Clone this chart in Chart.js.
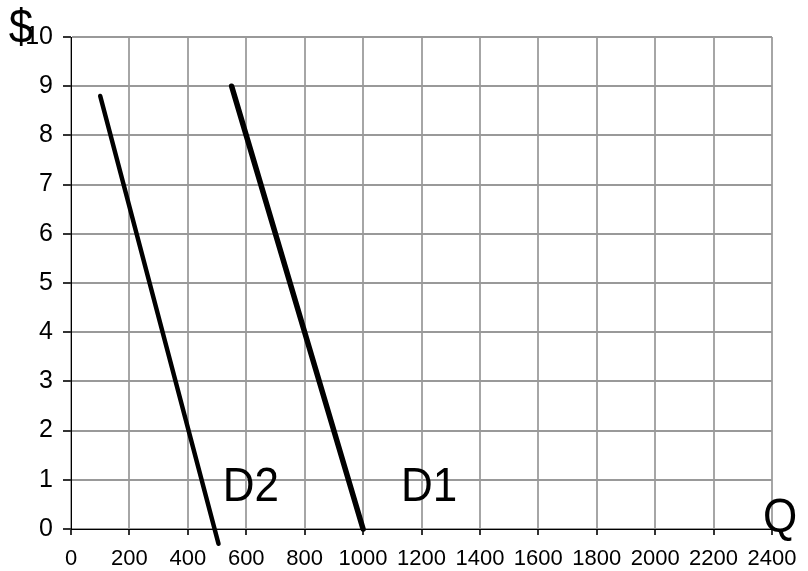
<!DOCTYPE html>
<html>
<head>
<meta charset="utf-8">
<script src="https://cdn.jsdelivr.net/npm/chart.js@4/dist/chart.umd.min.js"></script>
<style>
  html, body { margin: 0; padding: 0; background: #fff; }
  #wrap { width: 808px; height: 571px; }
</style>
</head>
<body>
<div id="wrap"><canvas id="grafico"></canvas></div>
<script>
// Demand curves (Q, $)
const d1Q = [550, 600, 800, 1000];
const d1P = [9, 8, 4, 0];
const d2Q = [100, 505];
const d2P = [8.8, -0.3];
const xTicks = [0, 200, 400, 600, 800, 1000, 1200, 1400, 1600, 1800, 2000, 2200, 2400];
const yTicks = [0, 1, 2, 3, 4, 5, 6, 7, 8, 9, 10];

const FONT = "Arial, 'Liberation Sans', sans-serif";

const pts = (xs, ys) => xs.map((x, i) => ({ x, y: ys[i] }));

// escreve texto um pouco esticado na vertical, como no original
function texto(ctx, t, x, y, size) {
  ctx.save();
  ctx.translate(x, y);
  ctx.scale(1, 1.1);
  ctx.font = size + 'px ' + FONT;
  ctx.fillText(t, 0, 0);
  ctx.restore();
}

// Text labels: D1, D2, axis names
const rotulos = {
  id: 'rotulos',
  afterDatasetsDraw(chart) {
    const { ctx, chartArea, scales } = chart;
    ctx.save();
    ctx.fillStyle = '#000';
    ctx.textAlign = 'center';
    ctx.textBaseline = 'middle';
    texto(ctx, 'D2', scales.x.getPixelForValue(616), scales.y.getPixelForValue(0.85), 44);
    texto(ctx, 'D1', scales.x.getPixelForValue(1226), scales.y.getPixelForValue(0.85), 44);
    texto(ctx, 'Q', chartArea.right + 8, chartArea.bottom - 10, 44);
    texto(ctx, '$', 21, 30, 44);
    ctx.restore();
  }
};

new Chart(document.getElementById('grafico'), {
  type: 'scatter',
  data: {
    datasets: [
      { label: 'D1', data: pts(d1Q, d1P), showLine: true, borderColor: '#000', borderWidth: 5.5, borderCapStyle: 'round', pointRadius: 0, clip: false },
      { label: 'D2', data: pts(d2Q, d2P), showLine: true, borderColor: '#000', borderWidth: 4.5, borderCapStyle: 'round', pointRadius: 0, clip: false }
    ]
  },
  options: {
    responsive: true,
    maintainAspectRatio: false,
    animation: false,
    layout: { padding: { left: 0, right: 36, top: 37, bottom: 0 } },
    plugins: { legend: { display: false }, tooltip: { enabled: false } },
    scales: {
      x: {
        type: 'linear', min: 0, max: 2400,
        afterBuildTicks: s => { s.ticks = xTicks.map(v => ({ value: v })); },
        afterFit: s => { s.height = 42; },
        grid: { color: '#a6a6a6', lineWidth: 2, tickLength: 6, tickColor: '#333' },
        border: { color: '#000', width: 1 },
        ticks: { color: '#000', font: { family: FONT, size: 22 }, padding: 11, maxRotation: 0, autoSkip: false, callback: v => String(v) }
      },
      y: {
        type: 'linear', min: 0, max: 10,
        afterBuildTicks: s => { s.ticks = yTicks.map(v => ({ value: v })); },
        afterFit: s => { s.width = 71; },
        grid: { color: '#999999', lineWidth: 2, tickLength: 8, tickColor: '#333' },
        border: { color: '#000', width: 1 },
        ticks: { color: '#000', font: { family: FONT, size: 25 }, padding: 10, callback: v => String(v) }
      }
    }
  },
  plugins: [rotulos]
});
</script>
</body>
</html>
